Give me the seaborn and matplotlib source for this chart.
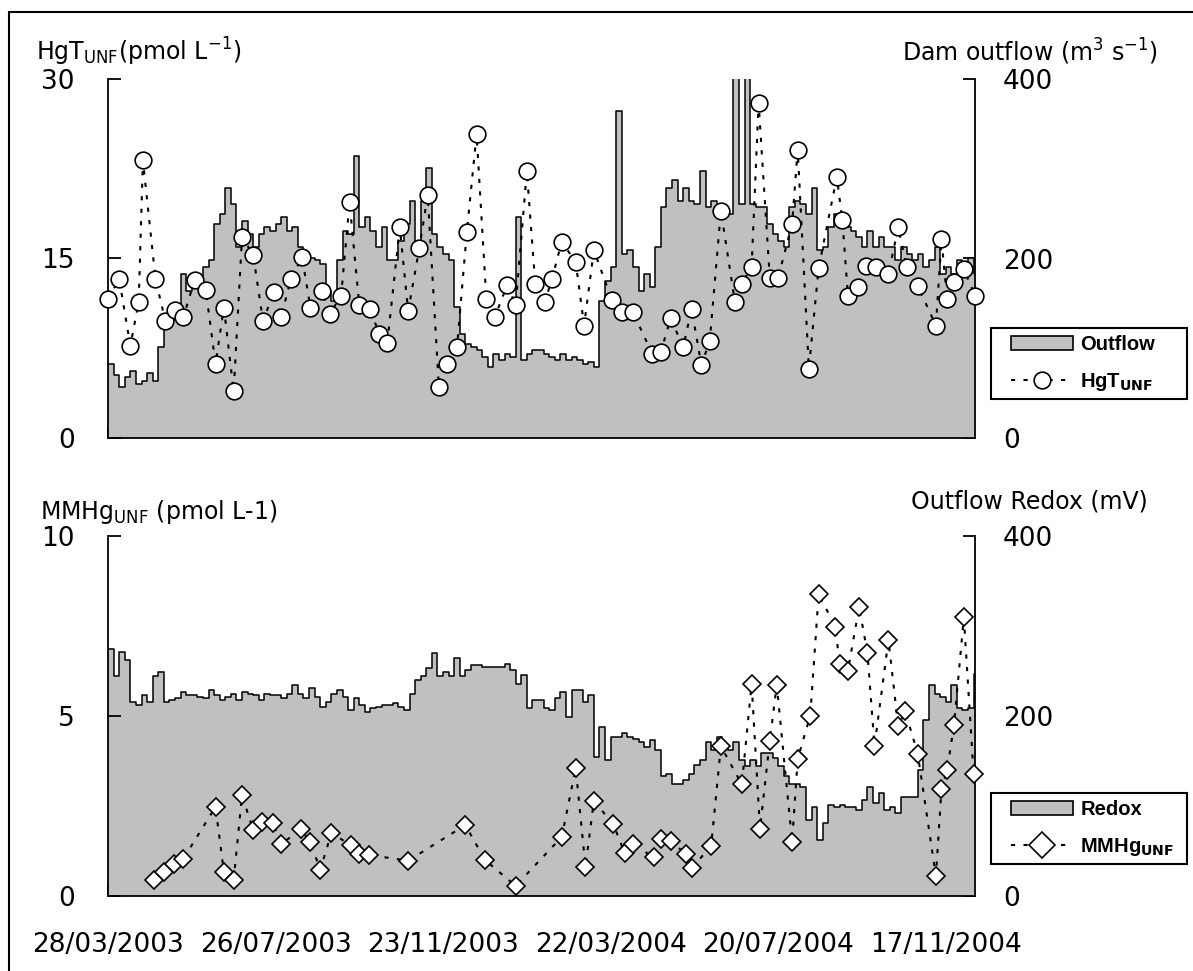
import matplotlib
matplotlib.use("Agg")
import matplotlib.pyplot as plt
from matplotlib.lines import Line2D
from matplotlib.patches import Patch, Rectangle
import pandas as pd
import seaborn as sns

# daily series every 4 days, starting 28/03/2003
start = "2003-03-28"
step_days = 4

outflow = [83, 70, 57, 68, 75, 60, 64, 72, 64, 101,
           124, 131, 139, 183, 164, 179, 175, 190, 198, 238,
           250, 279, 261, 213, 242, 227, 213, 227, 235, 231,
           238, 246, 231, 235, 213, 205, 201, 198, 194, 164,
           153, 198, 231, 227, 314, 235, 246, 231, 213, 235,
           198, 198, 220, 238, 264, 213, 264, 301, 227, 213,
           205, 198, 146, 116, 105, 101, 98, 90, 79, 94,
           87, 94, 90, 246, 87, 94, 98,
           98, 94, 90, 87, 94, 87, 90, 87, 83, 85, 79,
           153, 175, 190, 364, 205, 209, 190, 164, 183, 168,
           213, 257, 279, 287, 264, 279, 264, 261, 298, 257,
           264, 261, 257, 250, 410, 261, 410, 261, 257, 257,
           238, 227, 220, 213, 257, 264, 261, 250, 279, 209,
           213, 235, 250, 246, 235, 231, 224, 213, 231, 213,
           224, 213, 213, 198, 213, 205, 198, 205, 190, 198,
           213, 183, 190, 183, 198, 190, 201, 183]

redox = [275, 244, 271, 262, 216, 212, 223, 216, 244, 249,
         216, 218, 220, 227, 223, 223, 221, 220, 229, 223,
         218, 221, 225, 218, 227, 225, 223, 218, 225, 223,
         223, 220, 225, 234, 225, 220, 231, 221, 210, 216,
         225, 229, 221, 207, 220, 212, 205, 209, 210, 212,
         212, 215, 210, 207, 225, 240, 244, 253, 270, 244,
         249, 244, 264, 244, 251, 257, 257, 255, 255, 255,
         255, 258, 251, 236, 246, 209, 218,
         218, 209, 207, 220, 227, 199, 229, 229, 216, 223, 155,
         188, 151, 177, 177, 181, 177, 175, 171, 166, 173,
         162, 133, 136, 125, 125, 129, 136, 146, 151, 171,
         162, 177, 166, 162, 171, 151, 144, 151, 144, 159,
         159, 153, 144, 133, 125, 125, 121, 84, 99, 62,
         81, 101, 99, 101, 99, 99, 96, 107, 121, 103,
         114, 96, 99, 92, 110, 110, 110, 140, 196, 234,
         225, 221, 216, 234, 209, 207, 209, 247]

# sampling days (days after start) and concentrations
hgt_days = [0, 8, 16, 22, 25, 34, 41, 48, 54, 62, 70, 77, 83, 90, 96, 104, 111,
            119, 124, 131, 139, 145, 153, 159, 167, 173, 180, 188, 194, 200,
            209, 215, 223, 229, 237, 243, 250, 257, 264, 271, 277, 286, 292,
            300, 306, 313, 318, 325, 335, 341, 348, 361, 368, 376, 390, 396,
            403, 412, 418, 425, 431, 439, 449, 454, 461, 466, 474, 480, 490,
            494, 502, 509, 522, 526, 530, 537, 543, 550, 559, 566, 572, 580,
            593, 597, 601, 606, 613, 621]
hgt = [11.6, 13.3, 7.7, 11.4, 23.2, 13.3, 9.8, 10.7, 10.1, 13.2, 12.4, 6.2,
       10.9, 3.9, 16.8, 15.3, 9.8, 12.2, 10.1, 13.3, 15.1, 10.9, 12.3, 10.4,
       11.9, 19.7, 11.1, 10.8, 8.7, 7.9, 17.6, 10.6, 15.9, 20.3, 4.3, 6.2,
       7.6, 17.2, 25.4, 11.6, 10.1, 12.8, 11.1, 22.3, 12.9,
       11.4, 13.3, 16.4, 14.7, 9.4, 15.7, 11.5, 10.5, 10.5, 7.0, 7.2, 10.0,
       7.6, 10.8, 6.1, 8.1, 19.0, 11.4, 12.9, 14.3, 28.0, 13.4, 13.4, 17.9,
       24.1, 5.8, 14.2, 21.8, 18.2, 11.9, 12.6, 14.4, 14.3, 13.7, 17.6, 14.3,
       12.7, 9.4, 16.6, 11.6, 13.0, 14.1, 11.9]

mmhg_days = [33, 40, 47, 54, 77, 83, 90, 96, 104, 110, 118, 124, 138, 145, 152,
             160, 174, 180, 187, 215, 256, 270, 292,
             325, 335, 342, 348, 362, 370, 376, 391, 396, 403, 414, 418, 432,
             439, 454, 461, 467, 474, 479, 490, 494, 503, 509, 521, 524, 530,
             538, 544, 549, 559, 566, 571, 580, 593, 597, 601, 606, 613, 620]
mmhg = [0.44, 0.67, 0.90, 1.04, 2.47, 0.67, 0.44, 2.80, 1.83, 2.06, 2.03, 1.44,
        1.85, 1.50, 0.72, 1.75, 1.41, 1.18, 1.14, 0.98, 1.97, 1.00, 0.28,
        1.64, 3.55, 0.81, 2.64, 1.99, 1.20, 1.44, 1.07, 1.57, 1.53, 1.16, 0.77,
        1.39, 4.16, 3.10, 5.89, 1.87, 4.30, 5.87, 1.51, 3.81, 5.01, 8.38, 7.48,
        6.45, 6.26, 8.03, 6.74, 4.16, 7.11, 4.71, 5.13, 3.95, 0.55, 2.98, 3.49,
        4.76, 7.74, 3.40]

xtick_labels = ["28/03/2003", "26/07/2003", "23/11/2003",
                "22/03/2004", "20/07/2004", "17/11/2004"]

sns.set_theme(style="white")
plt.rcParams["font.family"] = ["DejaVu Sans"]
plt.rcParams["mathtext.fontset"] = "dejavusans"
plt.rcParams["text.color"] = "black"

t0 = pd.Timestamp(start)
series_dates = pd.date_range(t0, periods=len(outflow), freq=f"{step_days}D")
hgt_dates = t0 + pd.to_timedelta(hgt_days, unit="D")
mmhg_dates = t0 + pd.to_timedelta(mmhg_days, unit="D")
label_dates = pd.to_datetime(xtick_labels, format="%d/%m/%Y")
minor_dates = pd.date_range(label_dates[0], label_dates[-1], freq="60D")
x_end = t0 + pd.Timedelta(days=621)

W, H = 1193, 971
fig = plt.figure(figsize=(W / 100, H / 100), dpi=100, facecolor="white")


def box(x0, y0, x1, y1):
    return [x0 / W, 1 - y1 / H, (x1 - x0) / W, (y1 - y0) / H]


GRAY = "#c0c0c0"
TICK = 19


def panel(rect, area, dates, vals, marker, ms, ymax, yticks, show_labels):
    ax = fig.add_axes(rect)
    ax.fill_between(series_dates, area, step="post", color=GRAY, lw=0)
    ax.plot(series_dates, area, drawstyle="steps-post", color="black",
            lw=1.1, zorder=3)
    ax.set_ylim(0, 400)
    ax.set_xlim(t0, x_end)

    pts = ax.twinx()
    sns.lineplot(x=dates, y=vals, ax=pts, color="black", lw=1.5,
                 linestyle=(0, (2, 4)), marker=marker, markersize=ms,
                 markerfacecolor="white", markeredgecolor="black",
                 markeredgewidth=1.2, clip_on=False)
    pts.set_ylim(0, ymax)
    pts.set_yticks(yticks)

    ax.yaxis.tick_right()
    pts.yaxis.tick_left()
    ax.set_yticks([0, 200, 400])
    for a in (ax, pts):
        a.set(xlabel="", ylabel="")
        for s in a.spines.values():
            s.set_visible(False)
    for side in ("left", "right", "bottom"):
        ax.spines[side].set_visible(True)
        ax.spines[side].set_color("black")
        ax.spines[side].set_linewidth(1.3)
        ax.spines[side].set_zorder(4)

    ax.tick_params(axis="y", direction="in", length=9, width=1.3, right=True,
                   left=False, labelright=True, labelleft=False, pad=20,
                   labelsize=TICK, colors="black")
    pts.tick_params(axis="y", direction="in", length=9, width=1.3, left=True,
                    right=False, labelleft=True, labelright=False, pad=24,
                    labelsize=TICK, colors="black")

    ax.set_xticks(label_dates)
    ax.set_xticks(minor_dates, minor=True)
    ax.tick_params(axis="x", which="both", direction="in", length=8,
                   width=1.3, bottom=True, top=False, pad=26,
                   labelsize=TICK, colors="black")
    if show_labels:
        ax.set_xticklabels(xtick_labels)
    else:
        ax.set_xticklabels([])
    ax.xaxis.set_minor_formatter(plt.NullFormatter())
    return ax, pts


ax_top, pts_top = panel(box(108, 79, 975, 438), outflow, hgt_dates, hgt,
                        "o", 12, 30, [0, 15, 30], False)
ax_bot, pts_bot = panel(box(108, 536, 975, 896), redox, mmhg_dates, mmhg,
                        "D", 9.5, 10, [0, 5, 10], True)

# axis titles
lab = 17
fig.text(36 / W, 1 - 52 / H, r"HgT$_{\rm UNF}$(pmol L$^{-1}$)", fontsize=lab,
         ha="left", va="center")
fig.text(1158 / W, 1 - 52 / H, r"Dam outflow (m$^3$ s$^{-1}$)", fontsize=lab,
         ha="right", va="center")
fig.text(40 / W, 1 - 512 / H, r"MMHg$_{\rm UNF}$ (pmol L-1)", fontsize=lab,
         ha="left", va="center")
fig.text(1148 / W, 1 - 501 / H, "Outflow Redox (mV)", fontsize=lab,
         ha="right", va="center")

# legends: box drawn separately, entries placed inside it
legend_font = {"family": "Liberation Sans", "weight": "bold", "size": 14.5}


def add_legend(labels, marker, ms, y_top):
    fig.add_artist(Rectangle((991 / W, 1 - (y_top + 71) / H), 196 / W, 71 / H,
                             transform=fig.transFigure, facecolor="white",
                             edgecolor="black", lw=1.5, zorder=5))
    handles = [Patch(facecolor=GRAY, edgecolor="black", lw=1.2),
               Line2D([], [], color="black", lw=1.5, linestyle=(0, (2, 4)),
                      marker=marker, markersize=ms, markerfacecolor="white",
                      markeredgecolor="black", markeredgewidth=1.2)]
    leg = fig.legend(handles, labels, loc="center left",
                     bbox_to_anchor=(1011 / W, 1 - (y_top + 36) / H),
                     bbox_transform=fig.transFigure, borderaxespad=0,
                     borderpad=0, frameon=False, prop=legend_font,
                     handlelength=3.1, handletextpad=0.35, labelspacing=0.85)
    leg.set_zorder(6)


add_legend(["Outflow", r"HgT$_{\mathbf{UNF}}$"], "o", 12, 328)
add_legend(["Redox", r"MMHg$_{\mathbf{UNF}}$"], "D", 13, 793)

# outer frame (cropped at right and bottom)
fig.add_artist(Line2D([9 / W, 9 / W], [0, 1 - 12 / H], color="black", lw=1.5,
                      transform=fig.transFigure))
fig.add_artist(Line2D([9 / W, 1], [1 - 12 / H, 1 - 12 / H], color="black",
                      lw=1.5, transform=fig.transFigure))

fig.savefig("out.png", dpi=100, facecolor="white")
